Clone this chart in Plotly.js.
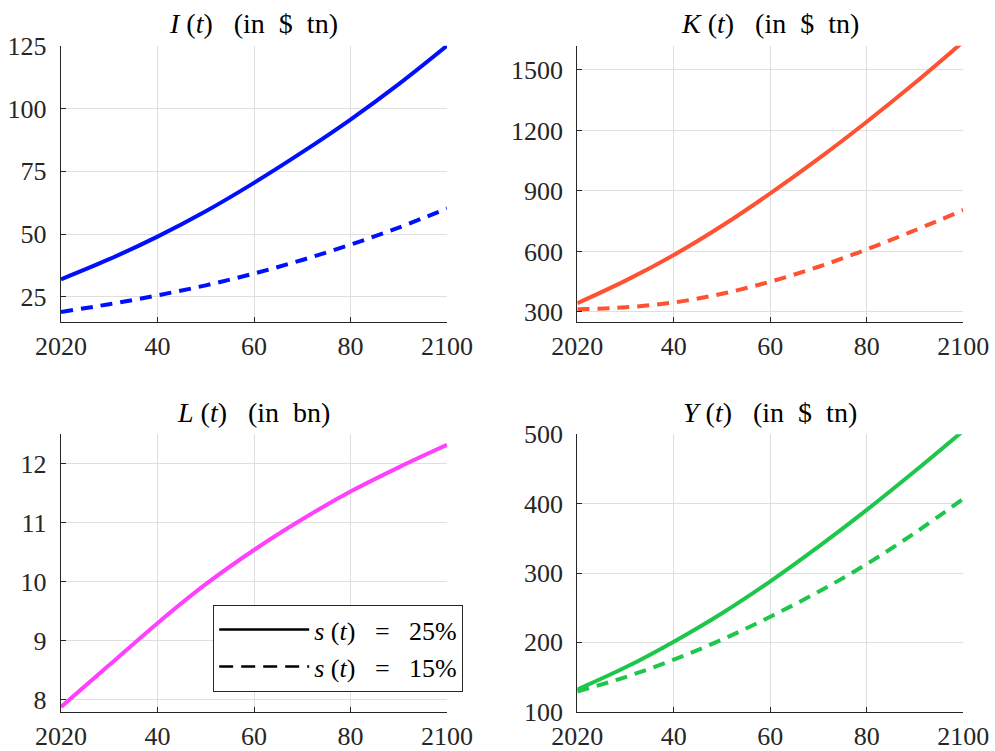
<!DOCTYPE html>
<html>
<head>
<meta charset="utf-8">
<script src="https://cdn.plot.ly/plotly-3.0.1.min.js"></script>
<style>html,body{margin:0;padding:0;background:#fff;}</style>
</head>
<body>
<div id="chart" style="width:995px;height:751px;"></div>
<script>
const years = [2020, 2030, 2040, 2050, 2060, 2070, 2080, 2090, 2100];
const I_25 = [32.0, 40.0, 49.0, 59.1, 70.4, 82.6, 95.6, 109.7, 125.0];
const I_15 = [19.0, 22.1, 25.6, 29.6, 34.3, 39.7, 45.8, 52.6, 60.2];
const K_25 = [343, 455, 582, 727, 888, 1060, 1243, 1436, 1640];
const K_15 = [313, 323, 347, 390, 450, 524, 610, 705, 805];
const L_all = [7.88, 8.59, 9.30, 9.96, 10.54, 11.06, 11.53, 11.94, 12.32];
const Y_25 = [132, 164, 201, 242, 288, 338, 391, 447, 505];
const Y_15 = [129, 150, 175, 204, 237, 273, 313, 358, 407];
const xTickVals = [2020, 2040, 2060, 2080, 2100];
const xTickText = ['2020', '40', '60', '80', '2100'];
const legendNames = [
  '<i>s</i>&nbsp;(<i>t</i>)&nbsp;&nbsp;&nbsp;=&nbsp;&nbsp;&nbsp;25%',
  '<i>s</i>&nbsp;(<i>t</i>)&nbsp;&nbsp;&nbsp;=&nbsp;&nbsp;&nbsp;15%'
];
const titles = [
  '<i>I</i>&nbsp;(<i>t</i>)&nbsp;&nbsp;&nbsp;(in&nbsp;&nbsp;$&nbsp;&nbsp;tn)',
  '<i>K</i>&nbsp;(<i>t</i>)&nbsp;&nbsp;&nbsp;(in&nbsp;&nbsp;$&nbsp;&nbsp;tn)',
  '<i>L</i>&nbsp;(<i>t</i>)&nbsp;&nbsp;&nbsp;(in&nbsp;&nbsp;bn)',
  '<i>Y</i>&nbsp;(<i>t</i>)&nbsp;&nbsp;&nbsp;(in&nbsp;&nbsp;$&nbsp;&nbsp;tn)'
];

const blue = '#0010ff', red = '#ff5233', mag = '#ff40ff', green = '#1ec74b';
const LW = 4;
const dash = '12px,8px';
function tr(x, y, xa, ya, color, d) {
  return {x: x, y: y, xaxis: xa, yaxis: ya, type: 'scatter', mode: 'lines',
    line: {color: color, width: LW, dash: d, shape: 'spline', smoothing: 1},
    showlegend: false, hoverinfo: 'skip'};
}
const data = [
  tr(years, I_25, 'x', 'y', blue, 'solid'),
  tr(years, I_15, 'x', 'y', blue, dash),
  tr(years, K_25, 'x2', 'y2', red, 'solid'),
  tr(years, K_15, 'x2', 'y2', red, dash),
  tr(years, L_all, 'x3', 'y3', mag, 'solid'),
  tr(years, Y_25, 'x4', 'y4', green, 'solid'),
  tr(years, Y_15, 'x4', 'y4', green, dash),
  {x: [null], y: [null], xaxis: 'x3', yaxis: 'y3', type: 'scatter', mode: 'lines', name: legendNames[0],
   line: {color: '#000', width: 2.5, dash: 'solid'}, showlegend: true},
  {x: [null], y: [null], xaxis: 'x3', yaxis: 'y3', type: 'scatter', mode: 'lines', name: legendNames[1],
   line: {color: '#000', width: 2.5, dash: '14px,8px'}, showlegend: true}
];

const fontFam = 'Liberation Serif';
const tickFont = {family: fontFam, size: 26, color: '#262626'};
function xax(domain, anchor) {
  return {domain: domain, anchor: anchor, range: [2020, 2100], tickvals: xTickVals, ticktext: xTickText,
    showgrid: true, gridcolor: '#dfdfdf', gridwidth: 1, zeroline: false, showline: true, linecolor: '#262626',
    linewidth: 1.2, ticks: 'inside', ticklen: 5, tickcolor: '#262626', tickfont: tickFont, mirror: false,
    ticklabelstandoff: 1};
}
function yax(domain, anchor, range, tv) {
  return {domain: domain, anchor: anchor, range: range, tickvals: tv,
    showgrid: true, gridcolor: '#dfdfdf', gridwidth: 1, zeroline: false, showline: true, linecolor: '#262626',
    linewidth: 1.2, ticks: 'inside', ticklen: 5, tickcolor: '#262626', tickfont: tickFont, mirror: false,
    ticklabelstandoff: 8};
}
const W = 995, H = 751;
const dx1 = [61 / W, 447 / W], dx2 = [577.3 / W, 963.3 / W];
const dyTop = [1 - 322 / H, 1 - 45.7 / H], dyBot = [1 - 711.7 / H, 1 - 434.3 / H];
function ann(text, xc, yc) {
  return {text: text, x: xc / W, y: 1 - yc / H, xref: 'paper', yref: 'paper', showarrow: false,
    xanchor: 'center', yanchor: 'middle', font: {family: fontFam, size: 28, color: '#000'}};
}
const layout = {
  width: W, height: H, margin: {l: 0, r: 0, t: 0, b: 0},
  paper_bgcolor: '#fff', plot_bgcolor: '#fff',
  xaxis: xax(dx1, 'y'), yaxis: yax(dyTop, 'x', [15, 125], [25, 50, 75, 100, 125]),
  xaxis2: xax(dx2, 'y2'), yaxis2: yax(dyTop, 'x2', [250, 1620], [300, 600, 900, 1200, 1500]),
  xaxis3: xax(dx1, 'y3'), yaxis3: yax(dyBot, 'x3', [7.8, 12.5], [8, 9, 10, 11, 12]),
  xaxis4: xax(dx2, 'y4'), yaxis4: yax(dyBot, 'x4', [100, 500], [100, 200, 300, 400, 500]),
  annotations: [ann(titles[0], 254, 23), ann(titles[1], 770, 23), ann(titles[2], 254, 412), ann(titles[3], 770, 412)],
  legend: {x: 213 / W, y: 1 - 605 / H, xanchor: 'left', yanchor: 'top', bgcolor: '#fff', bordercolor: '#262626',
    borderwidth: 1.2, font: {family: fontFam, size: 26, color: '#000'}, itemwidth: 90, tracegroupgap: 0},
  showlegend: true
};
Plotly.newPlot('chart', data, layout, {displayModeBar: false, staticPlot: true});
</script>
</body>
</html>
